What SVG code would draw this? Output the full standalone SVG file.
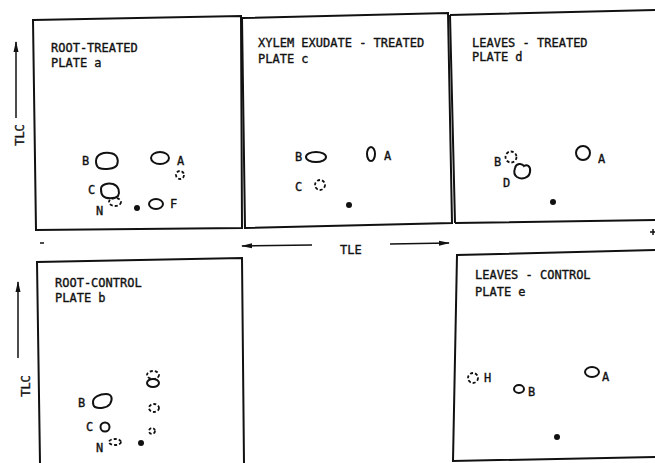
<svg xmlns="http://www.w3.org/2000/svg" width="655" height="463" viewBox="0 0 655 463">
<style>
.box{fill:none;stroke:#111;stroke-width:2}
.t{font-family:"DejaVu Sans Mono","Liberation Mono",monospace;font-size:12px;fill:#111;stroke:#111;stroke-width:0.35}
.l{font-family:"DejaVu Sans Mono","Liberation Mono",monospace;font-size:12px;fill:#111;stroke:#111;stroke-width:0.35}
.s{fill:none;stroke:#111;stroke-width:2}
.d{fill:none;stroke:#111;stroke-width:1.8;stroke-dasharray:3 2}
.dot{fill:#111}
.ax{stroke:#111;stroke-width:1.5;fill:none}
</style>
<defs>
<marker id="ah" markerWidth="11" markerHeight="8" refX="10" refY="4" orient="auto" markerUnits="userSpaceOnUse">
<path d="M0,1.5 L11,4 L0,6.5 Z" fill="#111"/>
</marker>
</defs>
<rect width="655" height="463" fill="#fff"/>

<g id="plate-a">
<path class="box" d="M33,20 L241,16 L242,228 L36,230 Z"/>
<text class="t" x="51" y="52">ROOT-TREATED</text>
<text class="t" x="51" y="67">PLATE a</text>
<path class="s" d="M96,161 C96,154 104,152 110,153 C117,154 119,159 117,165 C115,169 104,170 99,168 C96,166 96,164 96,161 Z"/>
<text class="l" x="82" y="165">B</text>
<ellipse class="s" cx="160" cy="158" rx="9" ry="6"/>
<text class="l" x="177" y="165">A</text>
<circle class="d" cx="180" cy="175" r="4"/>
<path class="s" d="M101,189 C101,184 108,183 113,184 C119,186 120,192 118,196 C115,199 106,199 103,196 C101,194 101,191 101,189 Z"/>
<text class="l" x="88" y="194">C</text>
<ellipse class="d" cx="115" cy="202" rx="6" ry="4"/>
<text class="l" x="96" y="215">N</text>
<circle class="dot" cx="137" cy="208" r="3"/>
<ellipse class="s" cx="156" cy="204" rx="7" ry="5"/>
<text class="l" x="170" y="208">F</text>
</g>

<g id="plate-c">
<path class="box" d="M242,18 L448,13 L452,223 L245,228 Z"/>
<text class="t" x="258" y="47">XYLEM EXUDATE - TREATED</text>
<text class="t" x="258" y="63">PLATE c</text>
<ellipse class="s" cx="316" cy="157" rx="10" ry="5"/>
<text class="l" x="295" y="161">B</text>
<ellipse class="s" cx="371" cy="154" rx="4" ry="7"/>
<text class="l" x="384" y="160">A</text>
<circle class="d" cx="320" cy="185" r="5"/>
<text class="l" x="295" y="191">C</text>
<circle class="dot" cx="349" cy="205" r="3"/>
</g>

<g id="plate-d">
<path class="box" d="M450,15 L655,10 M455,223 L450,15 M455,223 L655,220"/>
<text class="t" x="472" y="47">LEAVES - TREATED</text>
<text class="t" x="472" y="61">PLATE d</text>
<circle class="d" cx="511" cy="157" r="5.5"/>
<text class="l" x="494" y="166">B</text>
<path class="s" d="M515,168 C516,163 522,163 524,166 C527,164 531,166 530,172 C529,178 522,180 517,177 C514,175 514,171 515,168 Z"/>
<text class="l" x="503" y="187">D</text>
<circle class="s" cx="583" cy="153" r="7"/>
<text class="l" x="598" y="163">A</text>
<circle class="dot" cx="553" cy="202" r="3"/>
</g>

<g id="plate-b">
<path class="box" d="M40,463 L37,262 L242,258 L244,463"/>
<text class="t" x="55" y="287">ROOT-CONTROL</text>
<text class="t" x="55" y="302">PLATE b</text>
<ellipse class="d" cx="153" cy="375" rx="6" ry="4"/>
<ellipse class="s" cx="153" cy="383" rx="6" ry="4"/>
<path class="s" d="M93,402 C93,397 100,394 106,394 C112,394 113,399 110,404 C107,408 99,409 95,407 C93,406 93,404 93,402 Z"/>
<text class="l" x="78" y="407">B</text>
<ellipse class="d" cx="154" cy="408" rx="5" ry="4"/>
<circle class="s" cx="105" cy="427" r="4.5"/>
<text class="l" x="86" y="431">C</text>
<circle class="d" cx="152" cy="431" r="3"/>
<ellipse class="d" cx="115" cy="442" rx="6" ry="3"/>
<text class="l" x="96" y="452">N</text>
<circle class="dot" cx="141" cy="443" r="3"/>
</g>

<g id="plate-e">
<path class="box" d="M655,250 L457,255 L453,461 L655,457"/>
<text class="t" x="475" y="279">LEAVES - CONTROL</text>
<text class="t" x="475" y="296">PLATE e</text>
<circle class="d" cx="473" cy="378" r="5"/>
<text class="l" x="484" y="382">H</text>
<ellipse class="s" cx="519" cy="389" rx="5" ry="4"/>
<text class="l" x="528" y="396">B</text>
<ellipse class="s" cx="592" cy="372" rx="7" ry="5"/>
<text class="l" x="602" y="381">A</text>
<circle class="dot" cx="557" cy="437" r="3"/>
</g>

<g id="connectors">
<line class="ax" x1="16" y1="118" x2="16" y2="42" marker-end="url(#ah)"/>
<text class="l" transform="translate(24,135) rotate(-90)" text-anchor="middle">TLC</text>
<line class="ax" x1="18" y1="358" x2="18" y2="282" marker-end="url(#ah)"/>
<text class="l" transform="translate(30,386) rotate(-90)" text-anchor="middle">TLC</text>
<line class="ax" x1="312" y1="245" x2="242" y2="246" marker-end="url(#ah)"/>
<text class="l" x="340" y="254">TLE</text>
<line class="ax" x1="390" y1="244" x2="449" y2="243" marker-end="url(#ah)"/>
<line class="ax" x1="40" y1="243" x2="44" y2="243"/>
<path class="ax" d="M650,232 L656,232 M653,229 L653,235"/>
</g>
</svg>
